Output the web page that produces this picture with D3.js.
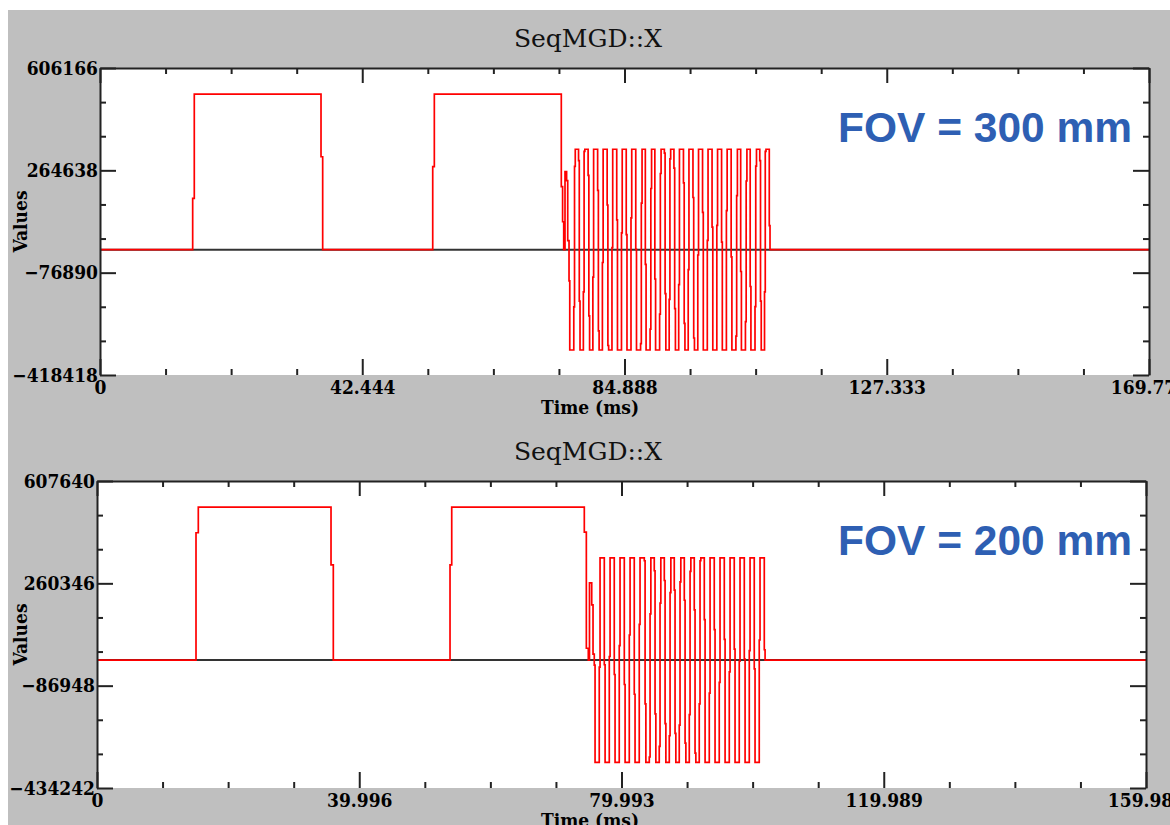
<!DOCTYPE html>
<html>
<head>
<meta charset="utf-8">
<script src="https://cdn.jsdelivr.net/npm/d3@7"></script>
<style>
  body { margin: 0; background: #fff; }
  .tick text, .axis-title {
    font-family: 'DejaVu Serif Condensed', 'DejaVu Serif';
    font-stretch: condensed;
    font-weight: bold;
    font-size: 19px;
    fill: #000;
  }
  .plot-title { font-family: 'DejaVu Serif'; font-size: 25px; fill: #111; }
  .fov { font-family: 'Liberation Sans', Arial; font-weight: bold; font-size: 42.5px; fill: #2e5fb3; }
</style>
</head>
<body>
<div id="vis"></div>
<script>
// Frame
const FRAME_WIDTH = 1170;
const FRAME_HEIGHT = 825;
const JOG_HOLD = 0.12; // ms a ramp sample is held

// ---- Top panel (FOV 300 mm) ----
const xTicksTop = [0, 42.444, 84.888, 127.333, 169.777];
const yTicksTop = [-418418, -76890, 264638, 606166];
const pulseTimesTop = [0, 15.00, 15.26, 35.77, 36.04, 53.85, 54.11, 74.66, 74.87, 75.05, 75.26, 75.52, 75.70];
const pulseValuesTop = [0, 171000, 519000, 310000, 0, 277000, 519000, 210000, 93000, 0, 260000, 230000, 30000];
const lobeEdgesTop = [75.91, 76.68, 77.45, 78.23, 79.00, 79.77, 80.54, 81.31, 82.08, 82.86,
  83.63, 84.40, 85.17, 85.94, 86.71, 87.49, 88.26, 89.03, 89.80, 90.57,
  91.34, 92.12, 92.89, 93.66, 94.43, 95.20, 95.97, 96.75, 97.52, 98.29,
  99.06, 99.83, 100.60, 101.38, 102.15, 102.92, 103.69, 104.46, 105.23, 106.01,
  106.78, 107.55, 108.32];
const lobeAmpTop = 335000;
const rampSamplesTop = [[-104000], [-191000, 278000], [297000, -172000], [-141000, 328000], [248000, -221000],
  [-92000], [198000, -271000], [-43000], [149000, -320000], [7000],
  [99000], [56000], [50000], [106000], [1000],
  [-314000, 155000], [-49000], [-265000, 204000], [-98000], [-215000, 254000],
  [322000, -147000], [-166000, 303000], [272000, -197000], [-117000], [223000, -246000],
  [-67000], [174000, -295000], [-18000], [124000], [31000],
  [75000], [81000], [25000], [130000], [-24000],
  [-289000, 180000], [-73000], [-240000, 229000], [-123000], [-190000, 279000],
  [297000, -172000], [-141000, 328000], [80000]];

// ---- Bottom panel (FOV 200 mm) ----
const xTicksBot = [0, 39.996, 79.993, 119.989, 159.985];
const yTicksBot = [-434242, -86948, 260346, 607640];
const pulseTimesBot = [0, 15.10, 15.45, 35.69, 36.04, 53.84, 54.10, 74.32, 74.63, 74.93, 75.11, 75.45, 75.65];
const pulseValuesBot = [0, 432000, 519000, 323000, 0, 323000, 519000, 434000, 40000, 0, 262000, 187000, 20000];
const lobeEdgesBot = [75.84, 76.60, 77.37, 78.13, 78.89, 79.65, 80.42, 81.18, 81.94, 82.70,
  83.47, 84.23, 84.99, 85.75, 86.52, 87.28, 88.04, 88.80, 89.57, 90.33,
  91.09, 91.85, 92.62, 93.38, 94.14, 94.90, 95.67, 96.43, 97.19, 97.95,
  98.72, 99.48, 100.24, 101.00, 101.77];
const lobeAmpBot = 347000;
const rampSamplesBot = [[-17000], [-24000], [-16000], [12000], [-49000],
  [49000], [-83000], [85000], [-116000], [121000],
  [337000, -149000], [-329000, 157000], [303000, -183000], [-293000, 193000], [270000, -216000],
  [-257000, 229000], [237000, -249000], [-221000, 265000], [203000, -282000], [-185000, 301000],
  [170000, -316000], [-149000, 337000], [137000], [-112000], [103000],
  [-76000], [70000], [-40000], [37000], [-4000],
  [3000], [32000], [-30000], [68000], [35000]];

const titles = ["SeqMGD::X", "SeqMGD::X"];
const fovLabels = ["FOV = 300 mm", "FOV = 200 mm"];

// Builds the sample-and-hold list of points for one panel
function buildWave(pT, pV, edges, ramps, amp, tEnd) {
  const pts = pT.map((t, i) => ({t: t, v: pV[i]}));
  edges.forEach((t, k) => {
    ramps[k].forEach((v, j) => pts.push({t: t + j * JOG_HOLD, v: v}));
    const level = k === edges.length - 1 ? 0 : (k % 2 === 0 ? -amp : amp);
    pts.push({t: t + ramps[k].length * JOG_HOLD, v: level});
  });
  pts.push({t: tEnd, v: 0});
  return pts;
}

const panels = [
  {xTicks: xTicksTop, yTicks: yTicksTop, wave: buildWave(pulseTimesTop, pulseValuesTop, lobeEdgesTop, rampSamplesTop, lobeAmpTop, 169.777),
   left: 100, right: 1149, top: 68, bottom: 375, offset: 0, title: titles[0], fov: fovLabels[0]},
  {xTicks: xTicksBot, yTicks: yTicksBot, wave: buildWave(pulseTimesBot, pulseValuesBot, lobeEdgesBot, rampSamplesBot, lobeAmpBot, 159.985),
   left: 97, right: 1146, top: 481, bottom: 788, offset: 413, title: titles[1], fov: fovLabels[1]}
];

const FRAME = d3.select("#vis")
  .append("svg")
    .attr("width", FRAME_WIDTH)
    .attr("height", FRAME_HEIGHT);

// gray background
FRAME.append("rect")
  .attr("x", 8).attr("y", 10)
  .attr("width", FRAME_WIDTH - 8).attr("height", FRAME_HEIGHT - 10)
  .attr("fill", "#bfbfbf");

panels.forEach((p, i) => {
  const X_SCALE = d3.scaleLinear()
    .domain([p.xTicks[0], p.xTicks[p.xTicks.length - 1]])
    .range([p.left, p.right]);
  const Y_SCALE = d3.scaleLinear()
    .domain([p.yTicks[0], p.yTicks[p.yTicks.length - 1]])
    .range([p.bottom, p.top]);

  // minor tick positions (quarters on x, thirds on y)
  const xMinor = [], yMinor = [];
  for (let k = 0; k < p.xTicks.length - 1; k++) {
    for (let j = 1; j < 4; j++) xMinor.push(p.xTicks[k] + (p.xTicks[k + 1] - p.xTicks[k]) * j / 4);
  }
  for (let k = 0; k < p.yTicks.length - 1; k++) {
    for (let j = 1; j < 3; j++) yMinor.push(p.yTicks[k] + (p.yTicks[k + 1] - p.yTicks[k]) * j / 3);
  }

  // plot area
  FRAME.append("rect")
    .attr("x", p.left).attr("y", p.top)
    .attr("width", p.right - p.left).attr("height", p.bottom - p.top)
    .attr("fill", "#fff");

  const clipId = "clip" + i;
  FRAME.append("clipPath").attr("id", clipId)
    .append("rect")
      .attr("x", p.left).attr("y", p.top - 1)
      .attr("width", p.right - p.left).attr("height", p.bottom - p.top + 2);

  const g = FRAME.append("g").attr("clip-path", "url(#" + clipId + ")");

  // zero baseline
  g.append("line")
    .attr("x1", p.left).attr("x2", p.right)
    .attr("y1", Y_SCALE(0)).attr("y2", Y_SCALE(0))
    .attr("stroke", "#333").attr("stroke-width", 2);

  // waveform
  const line = d3.line()
    .x(d => X_SCALE(d.t))
    .y(d => Y_SCALE(d.v))
    .curve(d3.curveStepAfter);
  g.append("path")
    .datum(p.wave)
    .attr("d", line)
    .attr("fill", "none")
    .attr("stroke", "#ff0000")
    .attr("stroke-width", 1.7);

  // axes: major
  const styleAxis = (sel) => {
    sel.selectAll(".domain").attr("stroke", "#222").attr("stroke-width", 2);
    sel.selectAll(".tick line").attr("stroke", "#222").attr("stroke-width", 2);
  };
  FRAME.append("g")
    .attr("transform", "translate(" + p.left + ",0)")
    .call(d3.axisLeft(Y_SCALE).tickValues(p.yTicks).tickSizeInner(-16).tickSizeOuter(0).tickPadding(2).tickFormat(d3.format("d")))
    .call(styleAxis)
    .call(s => s.selectAll("text").attr("font-family", null).attr("font-size", null));
  FRAME.append("g")
    .attr("transform", "translate(" + p.right + ",0)")
    .call(d3.axisRight(Y_SCALE).tickValues(p.yTicks).tickSizeInner(-16).tickSizeOuter(0).tickFormat(""))
    .call(styleAxis);
  FRAME.append("g")
    .attr("transform", "translate(0," + p.top + ")")
    .call(d3.axisTop(X_SCALE).tickValues(p.xTicks).tickSizeInner(-15).tickSizeOuter(0).tickFormat(""))
    .call(styleAxis);
  FRAME.append("g")
    .attr("transform", "translate(0," + p.bottom + ")")
    .call(d3.axisBottom(X_SCALE).tickValues(p.xTicks).tickSizeInner(-16).tickSizeOuter(0).tickPadding(2).tickFormat(d => d === 0 ? "0" : d3.format(".3f")(d)))
    .call(styleAxis)
    .call(s => s.select(".domain").remove())
    .call(s => s.selectAll("text").attr("font-family", null).attr("font-size", null).attr("dy", "0.92em"));

  // axes: minor
  const minor = (sel) => {
    sel.select(".domain").remove();
    sel.selectAll(".tick line").attr("stroke", "#222").attr("stroke-width", 2);
  };
  FRAME.append("g").attr("transform", "translate(" + p.left + ",0)")
    .call(d3.axisLeft(Y_SCALE).tickValues(yMinor).tickSizeInner(-6).tickFormat("")).call(minor);
  FRAME.append("g").attr("transform", "translate(" + p.right + ",0)")
    .call(d3.axisRight(Y_SCALE).tickValues(yMinor).tickSizeInner(-6).tickFormat("")).call(minor);
  FRAME.append("g").attr("transform", "translate(0," + p.top + ")")
    .call(d3.axisTop(X_SCALE).tickValues(xMinor).tickSizeInner(-6).tickFormat("")).call(minor);
  FRAME.append("g").attr("transform", "translate(0," + p.bottom + ")")
    .call(d3.axisBottom(X_SCALE).tickValues(xMinor).tickSizeInner(-6).tickFormat("")).call(minor);

  // titles
  FRAME.append("text")
    .attr("class", "plot-title")
    .attr("x", 588).attr("y", 47 + p.offset)
    .attr("text-anchor", "middle")
    .text(p.title);
  FRAME.append("text")
    .attr("class", "axis-title")
    .attr("x", 590).attr("y", 414 + p.offset)
    .attr("text-anchor", "middle")
    .text("Time (ms)");
  FRAME.append("text")
    .attr("class", "axis-title")
    .attr("transform", "translate(27," + ((p.top + p.bottom) / 2) + ") rotate(-90)")
    .attr("text-anchor", "middle")
    .text("Values");
  FRAME.append("text")
    .attr("class", "fov")
    .attr("x", 838).attr("y", 142 + p.offset)
    .text(p.fov);
});
</script>
</body>
</html>
